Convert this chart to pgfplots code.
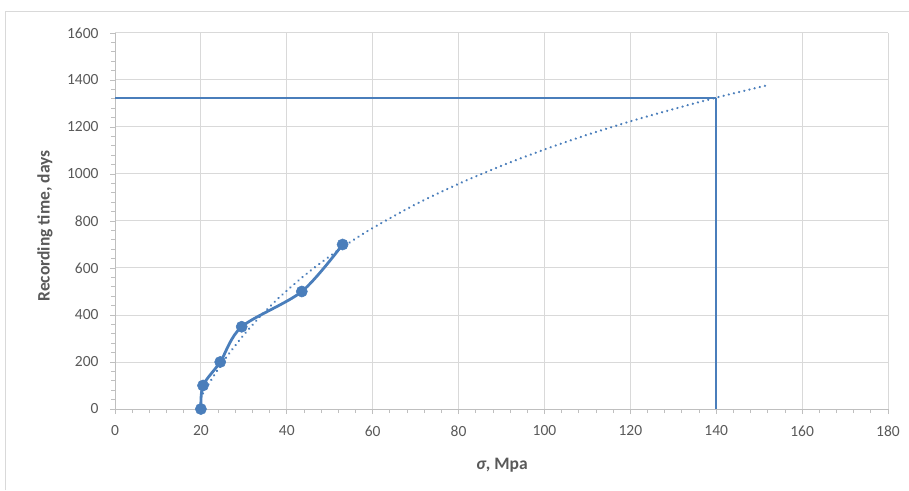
\documentclass[border=0pt]{standalone}
\usepackage{pgfplots}
\pgfplotsset{compat=1.18}
\usepackage{fontspec}
\setmainfont{Carlito}
\definecolor{txt}{HTML}{595959}
\definecolor{grd}{HTML}{D9D9D9}
\definecolor{axl}{HTML}{BFBFBF}
\definecolor{ser}{HTML}{4A7EBB}
\begin{document}
\begin{tikzpicture}[x=1pt,y=1pt]
\path[use as bounding box] (0,0) rectangle (909,490);
\draw[grd, line width=1pt] (5.5,0) -- (5.5,478) -- (909,478);
\begin{axis}[
  at={(115pt,81pt)}, anchor=south west,
  scale only axis, width=773pt, height=376pt,
  xmin=0, xmax=180, ymin=0, ymax=1600,
  xtick={0,20,...,180}, ytick={0,200,...,1600},
  minor x tick num=4, minor y tick num=4,
  axis lines*=left,
  axis line style={axl, line width=0.8pt},
  tick align=outside,
  major tick length=5pt, minor tick length=4pt,
  every tick/.style={axl, line width=0.8pt},
  grid=major, major grid style={grd, line width=1pt},
  ticklabel style={font=\fontsize{15.5}{18}\selectfont, text=txt},
  /pgf/number format/assume math mode=true,
  /pgf/number format/1000 sep={},
  xticklabel style={yshift=-8pt},
  yticklabel style={xshift=-8pt},
]
\addplot[ser, line width=1.8pt] coordinates {(0,1325) (140,1325)};
\addplot[ser, line width=1.8pt] coordinates {(140,0) (140,1325)};
\addplot[ser, line width=2.5pt, line cap=round, dash pattern=on 0.01pt off 5.3pt, smooth] coordinates {
(20.5,66) (22,112) (24,169) (26,222) (28,270) (30,316) (33,378) (36,435) (40,504) (45,581) (50,650) (55,713) (60,770) (70,871) (80,958) (90,1035) (100,1104) (110,1167) (120,1224) (130,1276) (140,1325) (152,1378)};
\addplot[ser, line width=2.8pt, smooth, tension=0.5, mark=*, mark size=5.6pt, mark options={solid, fill=ser, draw=ser, line width=0.5pt}] coordinates {
(20,0) (20.5,100) (24.5,200) (29.5,350) (43.5,500) (53,700)};
\end{axis}
\node[font=\fontsize{17.5}{20}\selectfont\bfseries, text=txt] at (502,25) {\textit{σ}, Mpa};
\node[font=\fontsize{17.5}{20}\selectfont\bfseries, text=txt, rotate=90] at (45,264) {Recording time, days};
\end{tikzpicture}
\end{document}
